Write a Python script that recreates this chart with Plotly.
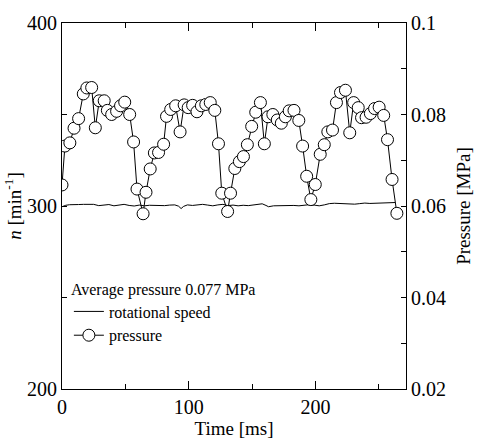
import plotly.graph_objects as go

# Pressure samples (time in ms, pressure in MPa)
p_time = [0.0, 2.3, 6.2, 9.5, 13.1, 16.8, 19.6, 23.4, 26.3, 29.4, 33.3, 35.8, 39.2, 43.1, 46.2, 49.5,
          53.4, 56.5, 59.2, 64.0, 66.3, 69.6, 72.9, 76.2, 80.2, 82.5, 85.8, 89.7, 93.2, 96.4, 99.6,
          103.1, 106.5, 110.0, 113.5, 117.0, 120.6, 123.5, 126.1, 130.7, 133.0, 136.4, 140.0, 143.2,
          146.3, 149.7, 152.9, 156.6, 159.7, 162.6, 166.4, 169.9, 173.1, 176.3, 179.3, 183.1, 186.9,
          189.9, 193.1, 196.4, 199.9, 203.8, 207.0, 209.8, 213.5, 216.6, 219.8, 223.7, 227.1, 230.2,
          233.8, 236.4, 240.0, 243.4, 246.7, 250.3, 253.9, 256.9, 260.5, 264.3]
p_value = [0.0646, 0.0731, 0.0738, 0.0770, 0.0791, 0.0845, 0.0858, 0.0859, 0.0771, 0.0830, 0.0830,
           0.0809, 0.0800, 0.0807, 0.0819, 0.0827, 0.0800, 0.0740, 0.0637, 0.0583, 0.0630, 0.0681,
           0.0716, 0.0717, 0.0735, 0.0796, 0.0811, 0.0819, 0.0762, 0.0821, 0.0815, 0.0820, 0.0806,
           0.0819, 0.0822, 0.0826, 0.0809, 0.0736, 0.0628, 0.0588, 0.0628, 0.0682, 0.0697, 0.0708,
           0.0734, 0.0774, 0.0805, 0.0826, 0.0736, 0.0795, 0.0800, 0.0788, 0.0781, 0.0795, 0.0808,
           0.0809, 0.0787, 0.0731, 0.0665, 0.0614, 0.0647, 0.0713, 0.0734, 0.0762, 0.0766, 0.0826,
           0.0848, 0.0853, 0.0760, 0.0826, 0.0815, 0.0793, 0.0794, 0.0802, 0.0813, 0.0816, 0.0798,
           0.0745, 0.0658, 0.0584]

# Rotational speed samples (time in ms, speed in min^-1)
n_time = [0, 3, 6, 9, 13, 17, 21, 25, 29, 33, 37, 41, 45, 49, 53, 57, 61, 65, 69, 73, 77, 81, 85, 89,
          92, 94, 96, 99, 103, 107, 111, 115, 119, 123, 127, 131, 135, 139, 143, 147, 151, 155, 158,
          161, 163, 167, 171, 175, 179, 183, 187, 191, 195, 199, 203, 207, 211, 215, 219, 223, 227,
          231, 235, 239, 243, 247, 251, 255, 259, 263]
n_value = [299.6, 300.4, 300.7, 300.9, 300.8, 300.9, 300.8, 300.9, 300.2, 300.5, 300.8, 300.1, 300.6,
           300.9, 300.3, 300.0, 300.5, 300.1, 300.4, 300.3, 300.6, 300.2, 300.5, 300.6, 299.9, 298.6,
           299.8, 300.6, 300.3, 300.7, 300.9, 300.5, 300.1, 300.6, 300.9, 300.2, 300.5, 300.1, 300.4,
           300.2, 300.6, 300.9, 301.2, 300.3, 299.6, 300.1, 300.2, 300.4, 300.6, 300.3, 300.1, 300.4,
           300.7, 300.5, 300.1, 300.6, 301.3, 301.5, 301.4, 301.1, 300.9, 301.0, 301.3, 301.6, 301.4,
           301.5, 301.8, 301.7, 302.0, 301.9]

x_major = [0, 100, 200]
x_minor = [50, 150, 250]
y_major = [200, 300, 400]
y_minor = [250, 350]
y2_major = [0.02, 0.04, 0.06, 0.08, 0.1]
y2_labels = ["0.02", "0.04", "0.06", "0.08", "0.1"]
y2_minor = [0.03, 0.05, 0.07, 0.09]

FONT = "Times New Roman, Liberation Serif, serif"

fig = go.Figure()
fig.add_trace(go.Scatter(x=n_time, y=n_value, mode="lines", name="rotational speed",
                         line=dict(color="black", width=1), yaxis="y"))
fig.add_trace(go.Scatter(x=p_time, y=p_value, mode="lines+markers", name="pressure",
                         line=dict(color="black", width=1),
                         marker=dict(symbol="circle", size=12, color="white",
                                     line=dict(color="black", width=1)),
                         yaxis="y2"))

fig.update_layout(
    width=482, height=447,
    margin=dict(l=62, r=69, t=16, b=55),
    paper_bgcolor="white", plot_bgcolor="white",
    font=dict(family=FONT, size=20, color="black"),
    showlegend=True,
    legend=dict(x=0.02, y=0.315, xanchor="left", yanchor="top",
                bgcolor="rgba(0,0,0,0)", font=dict(family=FONT, size=16),
                title=dict(text="Average pressure 0.077 MPa", font=dict(family=FONT, size=16)),
                tracegroupgap=0, itemwidth=30),
    xaxis=dict(range=[0, 271.5], tickmode="array", tickvals=x_major,
               ticks="inside", ticklen=8, tickcolor="black",
               minor=dict(tickmode="array", tickvals=x_minor, ticks="inside", ticklen=5,
                          tickcolor="black", showgrid=False),
               showline=True, linecolor="black", linewidth=1, mirror="ticks",
               showgrid=False, zeroline=False,
               title=dict(text="Time [ms]", font=dict(size=19), standoff=4)),
    yaxis=dict(range=[200, 400], tickmode="array", tickvals=y_major,
               ticks="inside", ticklen=5, tickcolor="black",
               minor=dict(tickmode="array", tickvals=y_minor, ticks="inside", ticklen=5,
                          tickcolor="black", showgrid=False),
               showline=True, linecolor="black", linewidth=1,
               showgrid=False, zeroline=False,
               title=dict(text="<i>n</i> [min<sup>-1</sup>]", font=dict(size=19), standoff=0)),
    yaxis2=dict(range=[0.02, 0.1], tickmode="array", tickvals=y2_major, ticktext=y2_labels,
                overlaying="y", side="right",
                ticks="inside", ticklen=5, tickcolor="black",
                minor=dict(tickmode="array", tickvals=y2_minor, ticks="inside", ticklen=5,
                           tickcolor="black", showgrid=False),
                showline=True, linecolor="black", linewidth=1,
                showgrid=False, zeroline=False,
                title=dict(text="Pressure [MPa]", font=dict(size=19), standoff=11)),
)

fig.write_html("out.html")
